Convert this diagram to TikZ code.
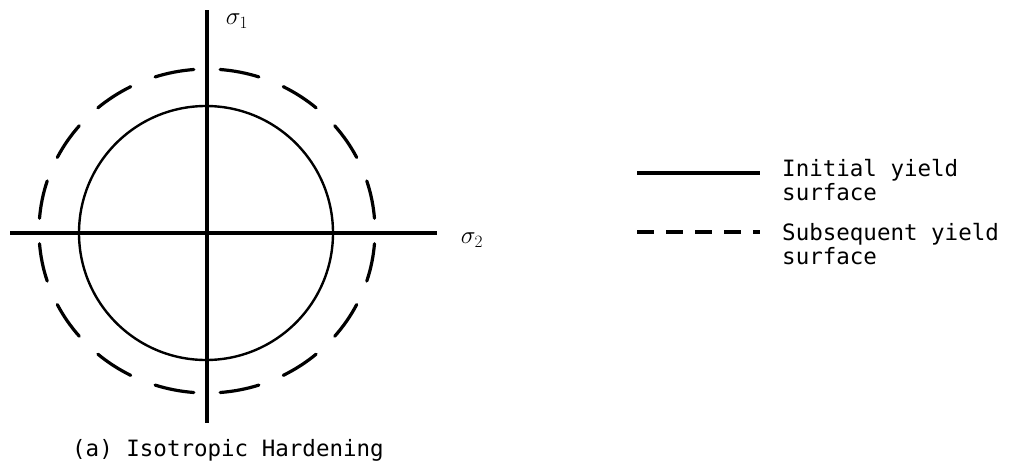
\documentclass[tikz,border=0pt]{standalone}
\usepackage{fontspec}
\newfontfamily\tw{DejaVu Sans Mono}
\begin{document}
\begin{tikzpicture}[x=1pt,y=-1pt,
  axisline/.style={line width=3.6pt},
  initial/.style={line width=2.4pt},
  subseq/.style={line width=3.2pt, line cap=round},
  legsolid/.style={line width=3.6pt},
  legdash/.style={line width=3.6pt, dash pattern=on 17pt off 12pt},
  lbl/.style={font=\fontsize{22.5}{25}\selectfont\tw, inner sep=0pt},
  sig/.style={font=\fontsize{25}{25}\selectfont, inner sep=0pt}]
\useasboundingbox (0,0) rectangle (1015,469);
% axes
\coordinate (vt) at (207,10);
\coordinate (vb) at (207,423);
\coordinate (hl) at (10,233);
\coordinate (hr) at (437,233);
\draw[axisline] (vt) -- (vb);
\draw[axisline] (hl) -- (hr);
% initial yield surface
\coordinate (c1) at (206,233);
\draw[initial] (c1) circle[radius=127];
% subsequent yield surface
\coordinate (c2) at (207,231);
\foreach \a in {0,22.5,...,337.5}
  \draw[subseq] ([shift={(\a+4.5:168 and 162)}]c2) arc[start angle=\a+4.5, end angle=\a+18, x radius=168, y radius=162];
% axis labels
\node[sig] (s1) at (237,21) {$\sigma_1$};
\node[sig] (s2) at (472,240) {$\sigma_2$};
% legend
\coordinate (la1) at (637,173);
\coordinate (lb1) at (760,173);
\coordinate (la2) at (637,232);
\coordinate (lb2) at (760,232);
\draw[legsolid] (la1) -- (lb1);
\draw[legdash] (la2) -- (lb2);
\node[lbl, anchor=base west] (t1) at (782,176) {Initial yield};
\node[lbl, anchor=base west] (t1b) at (782,200) {surface};
\node[lbl, anchor=base west] (t2) at (782,240) {Subsequent yield};
\node[lbl, anchor=base west] (t2b) at (782,264) {surface};
% caption
\node[lbl, anchor=base west] (cap) at (72,456) {(a) Isotropic Hardening};
\end{tikzpicture}
\end{document}
